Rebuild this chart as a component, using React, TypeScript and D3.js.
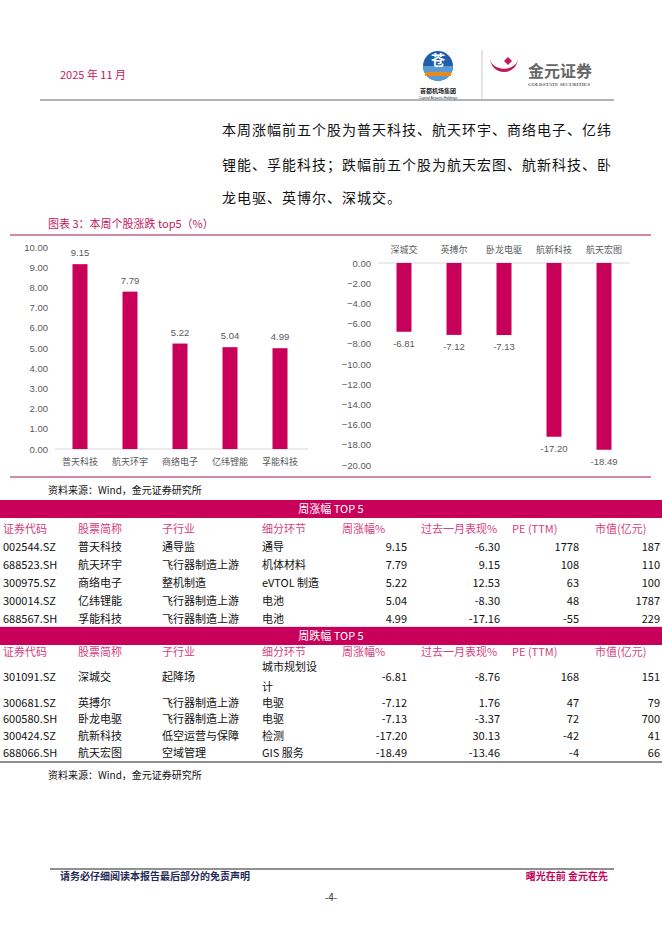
import * as d3 from 'd3'

const gainNames = ['普天科技', '航天环宇', '商络电子', '亿纬锂能', '孚能科技']
const gainValues = [9.15, 7.79, 5.22, 5.04, 4.99]
const lossNames = ['深城交', '英搏尔', '卧龙电驱', '航新科技', '航天宏图']
const lossValues = [-6.81, -7.12, -7.13, -17.2, -18.49]

const tableHeaders = ['证券代码', '股票简称', '子行业', '细分环节', '周涨幅%', '过去一月表现%', 'PE (TTM)', '市值(亿元)']

const gainRows = [
  ['002544.SZ', '普天科技', '通导监', '通导', '9.15', '-6.30', '1778', '187'],
  ['688523.SH', '航天环宇', '飞行器制造上游', '机体材料', '7.79', '9.15', '108', '110'],
  ['300975.SZ', '商络电子', '整机制造', 'eVTOL 制造', '5.22', '12.53', '63', '100'],
  ['300014.SZ', '亿纬锂能', '飞行器制造上游', '电池', '5.04', '-8.30', '48', '1787'],
  ['688567.SH', '孚能科技', '飞行器制造上游', '电池', '4.99', '-17.16', '-55', '229'],
]

const lossRows = [
  ['301091.SZ', '深城交', '起降场', '城市规划设|计', '-6.81', '-8.76', '168', '151'],
  ['300681.SZ', '英搏尔', '飞行器制造上游', '电驱', '-7.12', '1.76', '47', '79'],
  ['600580.SH', '卧龙电驱', '飞行器制造上游', '电驱', '-7.13', '-3.37', '72', '700'],
  ['300424.SZ', '航新科技', '低空运营与保障', '检测', '-17.20', '30.13', '-42', '41'],
  ['688066.SH', '航天宏图', '空域管理', 'GIS 服务', '-18.49', '-13.46', '-4', '66'],
]

const MAG = '#c8005a'
const PINK = '#c2185b'
const GRAY = '#595959'
const CJK = '"Noto Sans CJK SC", sans-serif'

// column x positions: left-aligned text columns, right-aligned number columns
const colX = [3, 78, 162, 262, 407, 500, 579, 660]
const headX = [3, 78, 162, 262, 342, 421, 512, 595]

function GainChart() {
  const x = d3.scaleBand<string>().domain(gainNames).range([55, 305]).paddingInner(0.7).paddingOuter(0.35)
  const y = d3.scaleLinear().domain([0, 10]).range([449, 247])
  const ticks = d3.range(0, 11, 1)
  return (
    <g>
      {ticks.map((t) => (
        <text key={t} x={48} y={y(t) + 3.5} textAnchor="end" fontSize={9.5} fill={GRAY} fontFamily="Liberation Sans, sans-serif">
          {d3.format('.2f')(t)}
        </text>
      ))}
      <line x1={55} x2={308} y1={y(0)} y2={y(0)} stroke="#d9d9d9" />
      {gainNames.map((n, i) => (
        <g key={n}>
          <rect x={x(n)} y={y(gainValues[i])} width={x.bandwidth()} height={y(0) - y(gainValues[i])} fill={MAG} />
          <text x={x(n)! + x.bandwidth() / 2} y={y(gainValues[i]) - 8} textAnchor="middle" fontSize={9.5} fill={GRAY} fontFamily="Liberation Sans, sans-serif">
            {gainValues[i].toFixed(2)}
          </text>
          <text x={x(n)! + x.bandwidth() / 2} y={465} textAnchor="middle" fontSize={9} fill={GRAY} fontFamily={CJK}>
            {n}
          </text>
        </g>
      ))}
    </g>
  )
}

function LossChart() {
  const x = d3.scaleBand<string>().domain(lossNames).range([379, 629]).paddingInner(0.7).paddingOuter(0.35)
  const y = d3.scaleLinear().domain([-20, 0]).range([465, 263])
  const ticks = d3.range(-20, 1, 2)
  return (
    <g>
      {ticks.map((t) => (
        <text key={t} x={371} y={y(t) + 3.5} textAnchor="end" fontSize={9.5} fill={GRAY} fontFamily="Liberation Sans, sans-serif">
          {d3.format('.2f')(t === 0 ? 0 : t)}
        </text>
      ))}
      <line x1={378} x2={630} y1={y(0)} y2={y(0)} stroke="#d9d9d9" />
      {lossNames.map((n, i) => (
        <g key={n}>
          <rect x={x(n)} y={y(0)} width={x.bandwidth()} height={y(lossValues[i]) - y(0)} fill={MAG} />
          <text x={x(n)! + x.bandwidth() / 2} y={y(lossValues[i]) + 15} textAnchor="middle" fontSize={9.5} fill={GRAY} fontFamily="Liberation Sans, sans-serif">
            {lossValues[i].toFixed(2)}
          </text>
          <text x={x(n)! + x.bandwidth() / 2} y={253} textAnchor="middle" fontSize={9} fill={GRAY} fontFamily={CJK}>
            {n}
          </text>
        </g>
      ))}
    </g>
  )
}

function Row({ cells, y }: { cells: string[]; y: number }) {
  return (
    <g fontSize={11} fontFamily={CJK} fill="#111">
      {cells.map((c, j) => {
        const right = j >= 4
        if (c.includes('|')) {
          const parts = c.split('|')
          return (
            <g key={j}>
              <text x={colX[j]} y={y - 6}>{parts[0]}</text>
              <text x={colX[j]} y={y + 14}>{parts[1]}</text>
            </g>
          )
        }
        return (
          <text key={j} x={colX[j]} y={y + 4} textAnchor={right ? 'end' : 'start'}>
            {c}
          </text>
        )
      })}
    </g>
  )
}

function Band({ y, label }: { y: number; label: string }) {
  return (
    <g>
      <rect x={0} y={y} width={662} height={18} fill={MAG} />
      <text x={331} y={y + 13} textAnchor="middle" fontSize={11} fill="#fff" fontFamily={CJK}>{label}</text>
    </g>
  )
}

function HeaderRow({ y }: { y: number }) {
  return (
    <g fontSize={11} fill="#d6407e" fontFamily={CJK}>
      {tableHeaders.map((h, j) => (
        <text key={h} x={headX[j]} y={y + 4}>{h}</text>
      ))}
    </g>
  )
}

export default function App() {
  const gainY = [547, 565, 583, 601, 619]
  const lossY = [677, 703, 719, 736, 753]
  return (
    <svg width={662} height={936} style={{ position: 'absolute', left: 0, top: 0, background: '#fff' }}>
      {/* header */}
      <text x={60} y={79} fontSize={11} fill={PINK} fontFamily={CJK}>2025 年 11 月</text>
      <g>
        <circle cx={438} cy={66} r={15} fill="#1f5fa8" />
        <path d="M423,66 A15,15 0 0,0 453,66 Z" fill="#5a9bd5" />
        <rect x={425} y={72} width={26} height={4} fill="#e88a1a" />
        <text x={438} y={65} textAnchor="middle" fontSize={14} fill="#fff" fontFamily={CJK} fontWeight="bold">苍</text>
        <text x={438} y={93} textAnchor="middle" fontSize={6} fill="#222" fontFamily={CJK} fontWeight="bold">首都机场集团</text>
        <text x={438} y={99} textAnchor="middle" fontSize={3.5} fill="#333" fontFamily="Liberation Sans">Capital Airports Holdings</text>
        <line x1={482} x2={482} y1={50} y2={99} stroke="#bbb" strokeWidth={0.8} />
        <path d="M490,58 A14,14 0 1,0 518,58 A13,10 0 1,1 490,58 Z" fill="#c2185b" />
        <path d="M504,61 l4,-4 l4,4 l-4,4 Z" fill="#c2185b" />
        <text x={528} y={77} fontSize={16} fill="#666" fontFamily={CJK} fontWeight="bold">金元证券</text>
        <text x={528} y={86} fontSize={5} fill="#666" fontFamily="Liberation Serif" fontWeight="bold">GOLDSTATE SECURITIES</text>
      </g>
      <line x1={40} x2={614} y1={100} y2={100} stroke="#3a3f5c" strokeWidth={0.8} />

      {/* paragraph */}
      <g fontSize={14} fill="#111" fontFamily={CJK} letterSpacing={1}>
        <text x={222} y={135}>本周涨幅前五个股为普天科技、航天环宇、商络电子、亿纬</text>
        <text x={222} y={170}>锂能、孚能科技；跌幅前五个股为航天宏图、航新科技、卧</text>
        <text x={222} y={203}>龙电驱、英博尔、深城交。</text>
      </g>

      {/* chart title */}
      <text x={48} y={228} fontSize={11} fill={PINK} fontFamily={CJK}>图表 3：本周个股涨跌 top5（%）</text>
      <line x1={10} x2={651} y1={235} y2={235} stroke="#a3154f" strokeWidth={1.2} />

      <GainChart />
      <LossChart />

      <line x1={10} x2={651} y1={477} y2={477} stroke="#a3154f" strokeWidth={1} />
      <text x={48} y={494} fontSize={10} fill="#111" fontFamily={CJK}>资料来源：Wind，金元证券研究所</text>

      {/* table */}
      <Band y={500} label="周涨幅 TOP 5" />
      <HeaderRow y={529} />
      {gainRows.map((r, i) => <Row key={r[0]} cells={r} y={gainY[i]} />)}
      <line x1={0} x2={662} y1={627} y2={627} stroke="#f2b8d0" />
      <Band y={627} label="周跌幅 TOP 5" />
      <HeaderRow y={652} />
      {lossRows.map((r, i) => <Row key={r[0]} cells={r} y={lossY[i]} />)}
      <line x1={0} x2={662} y1={762} y2={762} stroke="#222" strokeWidth={1.2} />
      <text x={48} y={779} fontSize={10} fill="#111" fontFamily={CJK}>资料来源：Wind，金元证券研究所</text>

      {/* footer */}
      <line x1={50} x2={614} y1={869} y2={869} stroke="#222" strokeWidth={1.2} />
      <text x={60} y={880} fontSize={10} fill="#1f2a55" fontFamily={CJK} fontWeight="bold">请务必仔细阅读本报告最后部分的免责声明</text>
      <text x={608} y={880} textAnchor="end" fontSize={10} fill={MAG} fontFamily={CJK} fontWeight="bold">曙光在前 金元在先</text>
      <text x={331} y={901} textAnchor="middle" fontSize={10} fill="#333" fontFamily={CJK}>-4-</text>
    </svg>
  )
}
